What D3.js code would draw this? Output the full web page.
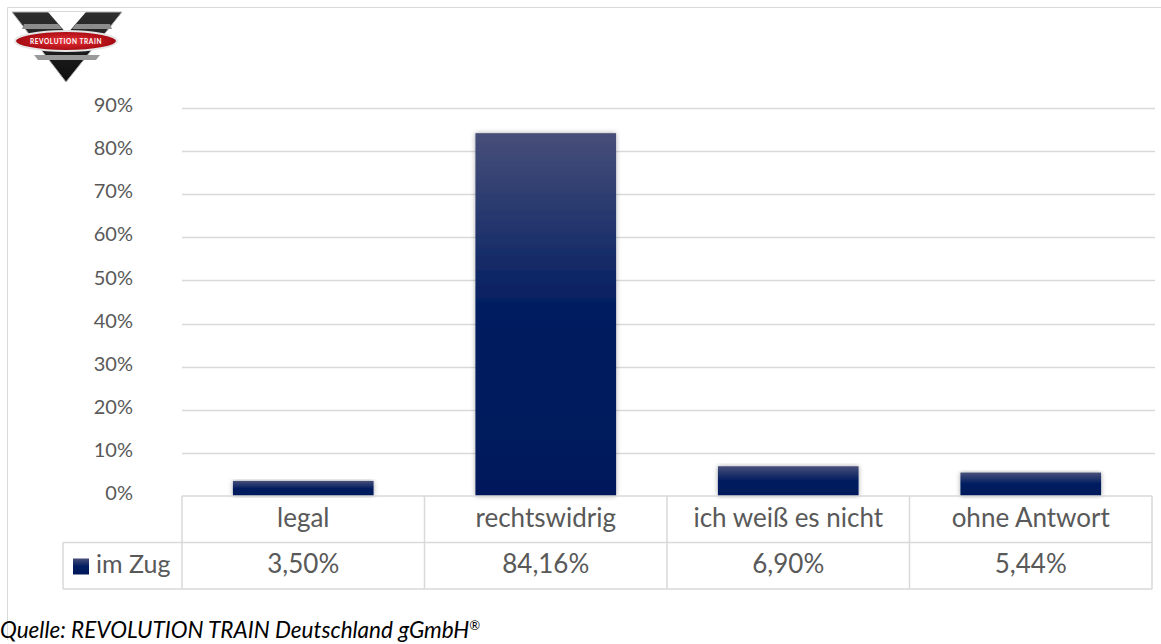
<!DOCTYPE html>
<html lang="de">
<head>
<meta charset="utf-8">
<script src="https://cdn.jsdelivr.net/npm/d3@7"></script>
<style>
  body { margin: 0; background: #fff; font-family: 'Lato', 'Noto Sans', sans-serif; }
</style>
</head>
<body>
<div id="chart"></div>
<script>

/* Data */
var categories = ['legal', 'rechtswidrig', 'ich weiß es nicht', 'ohne Antwort'];
var values = [3.50, 84.16, 6.90, 5.44];
var valueLabels = ['3,50%', '84,16%', '6,90%', '5,44%'];
var seriesName = 'im Zug';
var yTicks = [0, 10, 20, 30, 40, 50, 60, 70, 80, 90];
var sourceText = 'Quelle: REVOLUTION TRAIN Deutschland gGmbH';

var width = 1161, height = 644;
var plot = { left: 182, right: 1152, top: 108, bottom: 496 };
var rowH = 46.5;

var svg = d3.select('#chart').append('svg')
    .attr('width', width)
    .attr('height', height);

var defs = svg.append('defs');

var grad = defs.append('linearGradient')
    .attr('id', 'barGrad')
    .attr('x1', 0).attr('y1', 0).attr('x2', 0).attr('y2', 1);
grad.append('stop').attr('offset', '0%').attr('stop-color', '#474f79');
grad.append('stop').attr('offset', '50%').attr('stop-color', '#001c60');
grad.append('stop').attr('offset', '100%').attr('stop-color', '#00195b');

var shadow = defs.append('filter').attr('id', 'shadow')
    .attr('x', '-10%').attr('y', '-10%').attr('width', '120%').attr('height', '120%');
shadow.append('feDropShadow')
    .attr('dx', 0).attr('dy', 0).attr('stdDeviation', 2.5)
    .attr('flood-color', '#000').attr('flood-opacity', 0.35);

// Outer frame
svg.append('path')
    .attr('d', 'M7.5,640 V7.5 H1161')
    .attr('fill', 'none')
    .attr('stroke', '#d9d9d9')
    .attr('stroke-width', 1);

/* Scales */
var x = d3.scaleBand()
    .domain(categories)
    .range([plot.left, plot.right])
    .paddingInner(0.42)
    .paddingOuter(0.21);

var y = d3.scaleLinear()
    .domain([0, 90])
    .range([plot.bottom, plot.top]);

var step = (plot.right - plot.left) / categories.length;

// Gridlines
svg.append('g')
    .selectAll('line')
    .data(yTicks.slice(1))
    .join('line')
    .attr('x1', plot.left)
    .attr('x2', plot.right + 3)
    .attr('y1', function(d) { return Math.round(y(d)) + 0.5; })
    .attr('y2', function(d) { return Math.round(y(d)) + 0.5; })
    .attr('stroke', '#d9d9d9')
    .attr('stroke-width', 1.5);

// Y axis labels
svg.append('g')
    .selectAll('text')
    .data(yTicks)
    .join('text')
    .attr('x', 133)
    .attr('y', function(d) { return y(d) - 1; })
    .attr('text-anchor', 'end')
    .attr('dominant-baseline', 'middle')
    .attr('font-size', 20)
    .attr('fill', '#595959')
    .text(function(d) { return d + '%'; });

// Bars
svg.append('g')
    .selectAll('rect')
    .data(values)
    .join('rect')
    .attr('x', function(d, i) { return x(categories[i]); })
    .attr('y', function(d) { return y(d); })
    .attr('width', x.bandwidth())
    .attr('height', function(d) { return plot.bottom - y(d); })
    .attr('fill', 'url(#barGrad)')
    .attr('filter', 'url(#shadow)');

/* Data table */
var table = svg.append('g')
    .attr('fill', 'none')
    .attr('stroke', '#d9d9d9')
    .attr('stroke-width', 1.5);

// horizontal lines
table.append('line').attr('x1', plot.left).attr('x2', plot.right).attr('y1', plot.bottom).attr('y2', plot.bottom);
table.append('line').attr('x1', 63).attr('x2', plot.right).attr('y1', plot.bottom + rowH).attr('y2', plot.bottom + rowH);
table.append('line').attr('x1', 63).attr('x2', plot.right).attr('y1', plot.bottom + 2 * rowH).attr('y2', plot.bottom + 2 * rowH);
table.append('line').attr('x1', 63).attr('x2', 63).attr('y1', plot.bottom + rowH).attr('y2', plot.bottom + 2 * rowH);

// vertical lines
table.selectAll('line.v')
    .data(d3.range(categories.length + 1))
    .join('line')
    .attr('class', 'v')
    .attr('x1', function(i) { return plot.left + i * step; })
    .attr('x2', function(i) { return plot.left + i * step; })
    .attr('y1', plot.bottom)
    .attr('y2', plot.bottom + 2 * rowH);

// Category labels
svg.append('g')
    .selectAll('text')
    .data(categories)
    .join('text')
    .attr('x', function(d, i) { return plot.left + (i + 0.5) * step; })
    .attr('y', plot.bottom + rowH / 2 + 1)
    .attr('text-anchor', 'middle')
    .attr('dominant-baseline', 'middle')
    .attr('font-size', 26)
    .attr('fill', '#595959')
    .text(function(d) { return d; });

// Value labels
svg.append('g')
    .selectAll('text')
    .data(valueLabels)
    .join('text')
    .attr('x', function(d, i) { return plot.left + (i + 0.5) * step; })
    .attr('y', plot.bottom + rowH * 1.5 + 1)
    .attr('text-anchor', 'middle')
    .attr('dominant-baseline', 'middle')
    .attr('font-size', 26)
    .attr('fill', '#595959')
    .text(function(d) { return d; });

// Legend key in table
svg.append('rect')
    .attr('x', 73).attr('y', plot.bottom + rowH + 16)
    .attr('width', 16).attr('height', 16)
    .attr('fill', 'url(#barGrad)');

svg.append('text')
    .attr('x', 96)
    .attr('y', plot.bottom + rowH * 1.5 + 1)
    .attr('dominant-baseline', 'middle')
    .attr('font-size', 25)
    .attr('fill', '#595959')
    .text(seriesName);

// Source
var src = svg.append('text')
    .attr('x', 0)
    .attr('y', 638)
    .attr('font-size', 22.5)
    .attr('font-style', 'italic')
    .attr('fill', '#000')
    .text(sourceText);
src.append('tspan')
    .attr('dy', -8)
    .attr('font-size', 13)
    .text('®');

/* Logo */
var logo = svg.append('g').attr('transform', 'translate(10,10)');
var vGrad = defs.append('linearGradient').attr('id', 'vGrad')
    .attr('x1', 0).attr('y1', 0).attr('x2', 0).attr('y2', 1);
vGrad.append('stop').attr('offset', '0%').attr('stop-color', '#2e2e2e');
vGrad.append('stop').attr('offset', '100%').attr('stop-color', '#0e0e0e');

// outer chevron
logo.append('path')
    .attr('d', 'M2,2 L112,2 L56,72 Z')
    .attr('fill', 'url(#vGrad)').attr('stroke', '#b0b0b0').attr('stroke-width', 1);
// inner notch (top centre cut-out)
logo.append('path')
    .attr('d', 'M38,2 L76,2 L57,24 Z')
    .attr('fill', '#fff');
// grey bands
logo.append('path')
    .attr('d', 'M14,14 L48,14 L52,19 L12,19 Z')
    .attr('fill', '#8c8c8c');
logo.append('path')
    .attr('d', 'M66,14 L100,14 L102,19 L62,19 Z')
    .attr('fill', '#8c8c8c');
logo.append('path')
    .attr('d', 'M24,45 L90,45 L86,50 L28,50 Z')
    .attr('fill', '#9a9a9a');

var eGrad = defs.append('radialGradient').attr('id', 'eGrad');
eGrad.append('stop').attr('offset', '0%').attr('stop-color', '#e8323a');
eGrad.append('stop').attr('offset', '100%').attr('stop-color', '#a5080f');

logo.append('ellipse')
    .attr('cx', 56).attr('cy', 31).attr('rx', 51).attr('ry', 10)
    .attr('fill', 'url(#eGrad)').attr('stroke', '#e6e6e6').attr('stroke-width', 2);
logo.append('text')
    .attr('x', 56).attr('y', 33.5)
    .attr('text-anchor', 'middle')
    .attr('font-size', 6.5)
    .attr('font-weight', 700)
    .attr('fill', '#fff')
    .attr('letter-spacing', 0.6)
    .text('REVOLUTION TRAIN');

</script>
</body>
</html>
